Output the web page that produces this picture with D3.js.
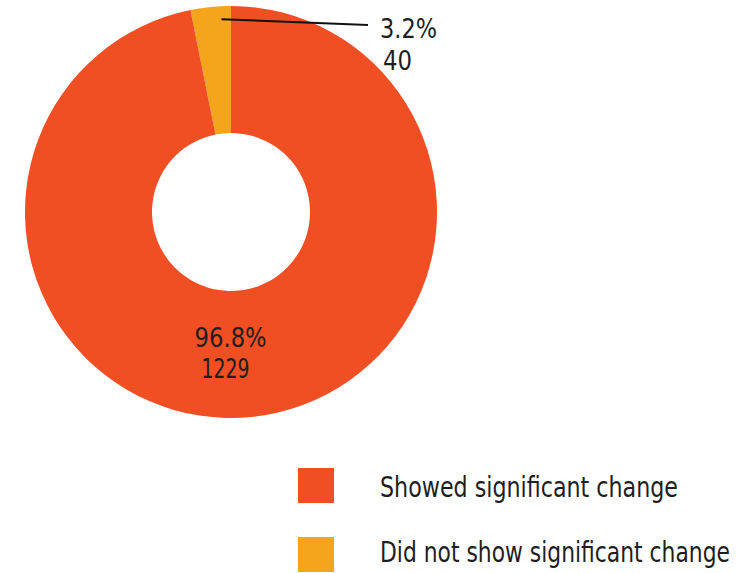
<!DOCTYPE html>
<html>
<head>
<meta charset="utf-8">
<script src="https://cdn.jsdelivr.net/npm/d3@7"></script>
<style>
  html, body { margin: 0; padding: 0; background: #ffffff; }
  svg { display: block; }
  text { font-family: "DejaVu Sans Condensed", "DejaVu Sans", sans-serif; font-stretch: condensed; fill: #1e1e1e; }
</style>
</head>
<body>
<svg id="chart" width="751" height="573"></svg>
<script>
// Outcome categories and their counts
const categories = ["Did not show significant change", "Showed significant change"];
const counts = [40, 1229];
const percentLabels = ["3.2%", "96.8%"];
const colors = ["#F4A51C", "#EF4F23"];
// Legend lists the larger group first
const legendOrder = ["Showed significant change", "Did not show significant change"];

const svg = d3.select("#chart");
const cx = 231, cy = 212;
const outerR = 206, innerR = 79;

const color = d3.scaleOrdinal().domain(categories).range(colors);

const data = categories.map((c, i) => ({ name: c, value: counts[i], pct: percentLabels[i] }));

// Small slice sits just left of 12 o'clock, the big slice fills the rest
const pie = d3.pie()
  .value(d => d.value)
  .sort(null)
  .startAngle(-2 * Math.PI * counts[0] / d3.sum(counts))
  .endAngle(2 * Math.PI - 2 * Math.PI * counts[0] / d3.sum(counts));

const arcs = pie(data);
const arc = d3.arc().innerRadius(innerR).outerRadius(outerR);

const g = svg.append("g").attr("transform", `translate(${cx},${cy})`);

g.selectAll("path.slice")
  .data(arcs)
  .join("path")
  .attr("class", "slice")
  .attr("d", arc)
  .attr("fill", d => color(d.data.name));

// Fit a label to a given width so the narrow lettering keeps its proportions
function fitted(sel, width) {
  return sel.attr("textLength", width).attr("lengthAdjust", "spacingAndGlyphs");
}

// Leader line and label for the small slice
const small = arcs[0];
const a0 = small.endAngle - (small.endAngle - small.startAngle) * 0.25;
const lineR = 193;
const p0 = [Math.sin(a0) * lineR, -Math.cos(a0) * lineR];
const p1 = [137, -187];
g.append("line")
  .attr("x1", p0[0]).attr("y1", p0[1])
  .attr("x2", p1[0]).attr("y2", p1[1])
  .attr("stroke", "#111").attr("stroke-width", 2);

fitted(g.append("text")
  .attr("x", p1[0] + 12).attr("y", p1[1] + 13)
  .attr("font-size", 27)
  .text(small.data.pct), 57);
fitted(g.append("text")
  .attr("x", p1[0] + 15).attr("y", p1[1] + 45)
  .attr("font-size", 27)
  .text(small.data.value), 29);

// Label inside the large slice
const big = arcs[1];
const labelArc = d3.arc().innerRadius(140).outerRadius(140);
const bc = labelArc.centroid({ startAngle: Math.PI * 0.985, endAngle: Math.PI * 0.985 });
fitted(g.append("text")
  .attr("x", bc[0] - 43).attr("y", bc[1] - 5)
  .attr("font-size", 27)
  .text(big.data.pct), 72);
fitted(g.append("text")
  .attr("x", bc[0] - 36).attr("y", bc[1] + 26)
  .attr("font-size", 27)
  .text(big.data.value), 48);

// Legend
const legendWidths = [298, 350];
const legend = svg.append("g").attr("transform", "translate(298,468)");
const swatchStep = 69, textStep = 65;
legend.selectAll("rect")
  .data(legendOrder)
  .join("rect")
  .attr("y", (d, i) => i * swatchStep)
  .attr("width", 36).attr("height", 35)
  .attr("fill", d => color(d));
legend.selectAll("text")
  .data(legendOrder)
  .join("text")
  .attr("x", 82).attr("y", (d, i) => 29 + i * textStep)
  .attr("font-size", 29)
  .attr("fill", "#222")
  .attr("textLength", (d, i) => legendWidths[i])
  .attr("lengthAdjust", "spacingAndGlyphs")
  .text(d => d);
</script>
</body>
</html>
